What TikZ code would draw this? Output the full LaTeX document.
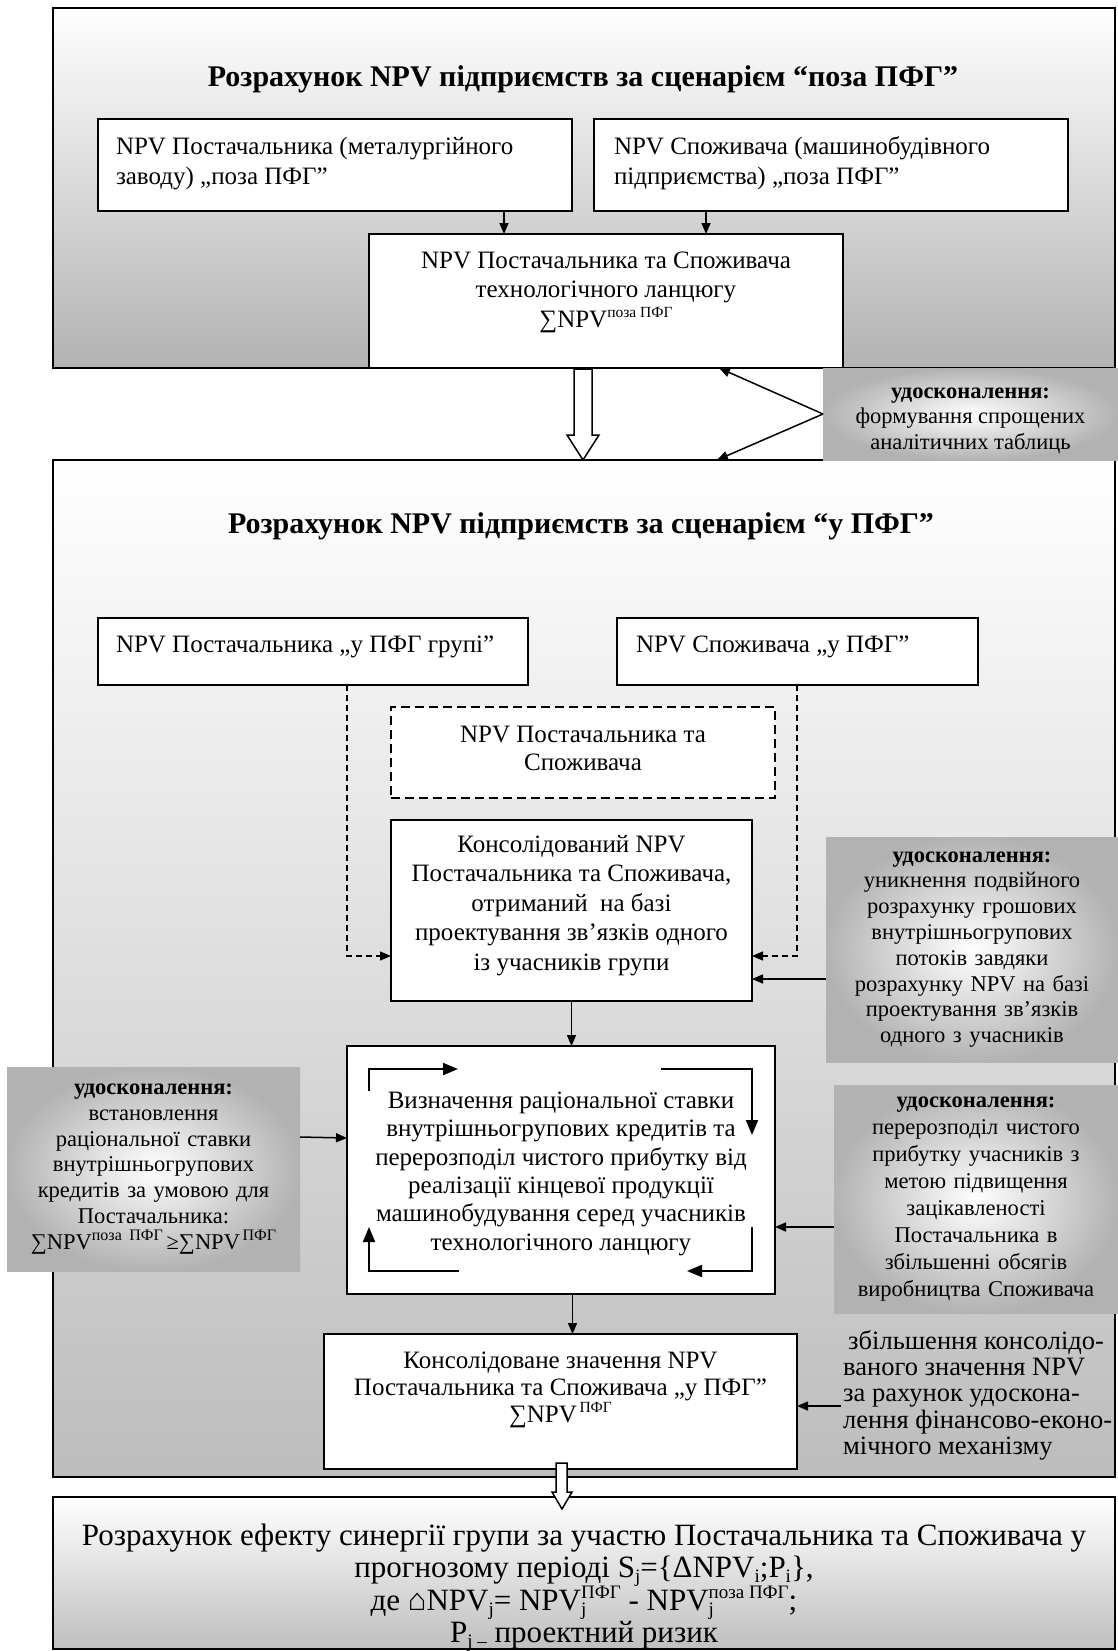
\documentclass[tikz,border=0pt]{standalone}
\usepackage{fontspec}
\setmainfont{Liberation Serif}
\usetikzlibrary{arrows.meta}
\newcommand\Sp[3]{\raisebox{#1pt}{\fontsize{#2}{#2}\selectfont #3}}
\newcommand\Sb[1]{\raisebox{-5pt}{\fontsize{19}{19}\selectfont #1}}
\newcommand\SbSp[2]{\makebox[0pt][l]{\Sb{#1}}\Sp{12}{19}{#2}}
% height, width, fontsize, baselineskip, top pad, alignment, text
\newcommand\tb[7]{\parbox[c][#1pt][t]{#2pt}{\fontsize{#3}{#4}\selectfont #6\vspace*{#5pt}\noindent\strut #7\par}}
\begin{document}
\begin{tikzpicture}[x=1pt,y=-1pt,
  box/.style={draw=black,line width=2pt,fill=white,inner sep=0pt,outer sep=0pt},
  dbox/.style={box,dash pattern=on 9pt off 5pt},
  big/.style={draw=black,line width=2.5pt,inner sep=0pt,outer sep=0pt},
  imp/.style={inner sep=0pt,outer sep=0pt,align=center,inner color=white,outer color=black!30,font=\fontsize{22.5}{25.8}\selectfont},
  arr/.style={line width=1.5pt,-{Triangle[length=11pt,width=9pt]}},
  darr/.style={line width=1.2pt,dash pattern=on 6pt off 4pt,-{Triangle[length=11pt,width=9pt]}},
  larr/.style={line width=2pt,-{Triangle[length=15pt,width=12pt]}},
  hollow/.style={draw=black,line width=1.5pt,fill=white},
  ttl/.style={inner sep=0pt,font=\fontsize{30}{36}\bfseries\selectfont}]
\useasboundingbox (0,0) rectangle (1118,1651);
\fill[white] (0,0) rectangle (1118,1651);

% ---------- top block ----------
\node[big,top color=white,bottom color=black!30,minimum width=1062,minimum height=360] (top) at (584,188) {};
\node[ttl] (t1) at (583,79) {Розрахунок NPV підприємств за сценарієм “поза ПФГ”};
\node[box] (A) at (335,165) {\tb{92}{474}{25}{29.5}{15}{\raggedright\leftskip=18pt}{NPV Постачальника (металургійного\\заводу) „поза ПФГ”}};
\node[box] (B) at (831,165) {\tb{92}{474}{25}{29.5}{15}{\raggedright\leftskip=20pt}{NPV Споживача (машинобудівного\\підприємства) „поза ПФГ”}};
\node[box] (C) at (606,301) {\tb{134}{474}{25}{29.5}{13.5}{\centering}{NPV Постачальника та Споживача\\технологічного ланцюгу\\∑NPV\Sp{10}{15.5}{поза ПФГ}}};
\draw[arr] ([xshift=169pt]A.south) -- ([xshift=-102pt]C.north);
\draw[arr] ([xshift=-125pt]B.south) -- ([xshift=100pt]C.north);

% ---------- middle block ----------
\node[big,top color=white,bottom color=black!26,minimum width=1062,minimum height=1017] (mid) at (584,968.5) {};
\node[ttl] (t2) at (581,526) {Розрахунок NPV підприємств за сценарієм “у ПФГ”};

\node[imp] (imp1) at (970.5,414) {\tb{92}{295}{22.5}{25.5}{12.5}{\centering}{\textbf{удосконалення:}\\формування спрощених\\аналітичних таблиць}};
\draw[hollow] (574,369) -- (574,435) -- (567,435) -- (583,460) -- (599,435) -- (592,435) -- (592,369) -- cycle;
\draw[arr] (imp1.west) -- ([xshift=113pt]C.south);
\draw[arr] (imp1.west) -- ([xshift=133pt]mid.north);

\node[box] (D) at (313,651.5) {\tb{67}{430}{25}{29.5}{13.8}{\raggedright\leftskip=18pt}{NPV Постачальника „у ПФГ групі”}};
\node[box] (E) at (797.5,651.5) {\tb{67}{361}{25}{29.5}{13.8}{\raggedright\leftskip=19pt}{NPV Споживача „у ПФГ”}};
\node[dbox] (G) at (583,752.5) {\tb{91}{384}{25}{29.5}{15}{\centering}{NPV Постачальника та\\[-2pt]Споживача}};
\node[box] (F) at (571.5,910.5) {\tb{181}{361}{25}{29.5}{11.5}{\centering}{Консолідований NPV\\Постачальника та Споживача,\\отриманий\ \ на базі\\проектування зв’язків одного\\із учасників групи}};
\draw[darr] ([xshift=34pt]D.south) |- ([yshift=-45.5pt]F.west);
\draw[darr] ([xshift=-0.5pt]E.south) |- ([yshift=-45.5pt]F.east);

\node[imp,minimum width=292,minimum height=225,text width=292] (imp2) at (972,949.5) {\textbf{удосконалення:}\\уникнення подвійного\\розрахунку грошових\\внутрішньогрупових\\потоків завдяки\\розрахунку NPV на базі\\проектування зв’язків\\одного з учасників};
\draw[arr] ([yshift=-29.5pt]imp2.west) -- ([yshift=-68.5pt]F.east);

\node[box] (H) at (561,1170) {\tb{248}{428}{25}{28.4}{42.5}{\centering}{Визначення раціональної ставки\\внутрішньогрупових кредитів та\\перерозподіл чистого прибутку від\\реалізації кінцевої продукції\\машинобудування серед учасників\\технологічного ланцюгу}};
\draw[arr] (F.south) -- (F.south |- H.north);
\draw[larr] (369,1091) -- (369,1069) -- (458,1069);
\draw[larr] (661,1069) -- (752,1069) -- (752,1135);
\draw[larr] (752,1227) -- (752,1271) -- (687,1271);
\draw[larr] (459,1271) -- (369,1271) -- (369,1227);

\node[imp,minimum width=293,minimum height=204,text width=293] (impL) at (153.5,1169) {\textbf{удосконалення:}\\встановлення\\раціональної ставки\\внутрішньогрупових\\кредитів за умовою для\\Постачальника:\\∑NPV\Sp{9}{16}{поза ПФГ}\,≥∑NPV\Sp{9}{16}{\,ПФГ}};
\draw[arr] ([yshift=32pt]impL.east) -- ([yshift=32pt]H.west);

\node[imp,minimum width=284,minimum height=228,text width=284,font=\fontsize{22.5}{27}\selectfont] (imp3) at (976,1199) {\textbf{удосконалення:}\\перерозподіл чистого\\прибутку учасників з\\метою підвищення\\зацікавленості\\Постачальника в\\збільшенні обсягів\\виробництва Споживача};
\draw[arr] ([yshift=-28pt]imp3.west) -- ([yshift=-57pt]H.east);

\node[box] (I) at (560.5,1401.5) {\tb{135}{473}{25}{27}{15.5}{\centering}{Консолідоване значення NPV\\Постачальника та Споживача „у ПФГ”\\∑NPV\Sp{10}{15.5}{\,ПФГ}}};
\draw[arr] ([xshift=11.5pt]H.south) -- ([xshift=12pt]I.north);

\node[anchor=north west,inner sep=0pt,align=left,font=\fontsize{26.5}{26.3}\selectfont] (free) at (843,1330) {\strut\hspace{5pt}збільшення консолідо-\\ваного значення NPV\\за рахунок удоскона-\\лення фінансово-еконо-\\мічного механізму};
\coordinate (fa) at (841,1406);
\draw[arr] (fa) -- (fa -| I.east);

% ---------- bottom block ----------
\node[big,top color=white,bottom color=black!25] (bot) at (584,1573) {\tb{152}{1062}{31}{32}{26}{\centering}{Розрахунок ефекту синергії групи за участю Постачальника та Споживача у\\прогнозому періоді S\Sb{j}=\{ΔNPV\Sb{i};P\Sb{i}\},\\[-1pt]де ⌂NPV\Sb{j}= NPV\SbSp{j}{ПФГ} - NPV\SbSp{j}{поза ПФГ};\\P\Sb{j –} проектний ризик}};
\draw[hollow] (556,1463) -- (556,1492) -- (552,1492) -- (562,1509) -- (572,1492) -- (567,1492) -- (567,1463) -- cycle;
\end{tikzpicture}
\end{document}
